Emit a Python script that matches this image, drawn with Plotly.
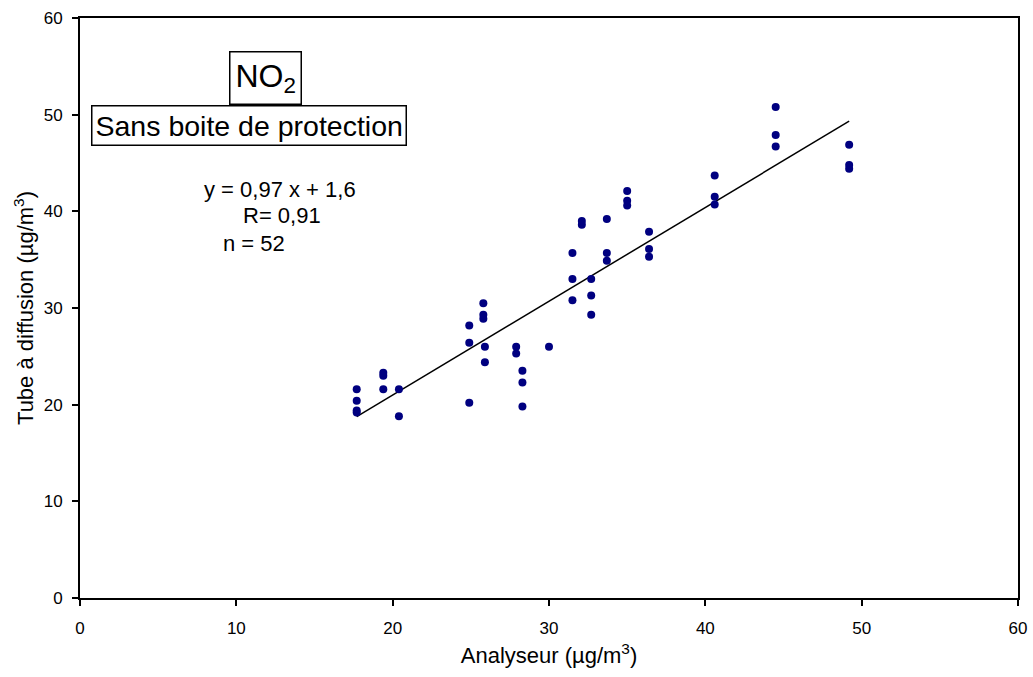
import plotly.graph_objects as go

analyseur = [17.7, 17.7, 17.7, 17.7,
             19.4, 19.4, 19.4,
             20.4, 20.4,
             24.9, 24.9, 24.9,
             25.8, 25.8, 25.8,
             25.9, 25.9,
             27.9, 27.9,
             28.3, 28.3, 28.3,
             30.0,
             31.5, 31.5, 31.5,
             32.1, 32.1,
             32.7, 32.7, 32.7,
             33.7, 33.7, 33.7,
             35.0, 35.0, 35.0,
             36.4, 36.4, 36.4,
             40.6, 40.6, 40.6,
             44.5, 44.5, 44.5,
             49.2, 49.2, 49.2]
tube = [21.6, 20.4, 19.4, 19.2,
        23.3, 23.0, 21.6,
        21.6, 18.8,
        28.2, 26.4, 20.2,
        30.5, 29.3, 28.9,
        26.0, 24.4,
        26.0, 25.3,
        23.5, 22.3, 19.8,
        26.0,
        35.7, 33.0, 30.8,
        39.0, 38.6,
        33.0, 31.3, 29.3,
        39.2, 35.7, 34.9,
        42.1, 41.1, 40.6,
        37.9, 36.1, 35.3,
        43.7, 41.5, 40.7,
        50.8, 47.9, 46.7,
        46.9, 44.8, 44.4]

slope = 0.97
intercept = 1.6
tick_vals = [0, 10, 20, 30, 40, 50, 60]

x_fit = [min(analyseur), max(analyseur)]
y_fit = [slope * v + intercept for v in x_fit]

FONT = "Liberation Sans, Arial, sans-serif"

fig = go.Figure()
fig.add_trace(go.Scatter(x=x_fit, y=y_fit, mode="lines",
                         line=dict(color="black", width=1.5), showlegend=False))
fig.add_trace(go.Scatter(x=analyseur, y=tube, mode="markers",
                         marker=dict(color="#000080", size=8), showlegend=False))

common_axis = dict(range=[0, 60], tickvals=tick_vals, showgrid=False, zeroline=False,
                   showline=True, linecolor="black", linewidth=2, mirror=True,
                   ticks="outside", ticklen=6, tickwidth=2, tickcolor="black",
                   tickfont=dict(size=17, color="black", family=FONT))

fig.update_xaxes(**common_axis,
                 title=dict(text="Analyseur (µg/m<sup>3</sup>)",
                            font=dict(size=22, color="black", family=FONT), standoff=10),
                 ticklabelstandoff=8)
fig.update_yaxes(**common_axis,
                 title=dict(text="Tube à diffusion (µg/m<sup>3</sup>)",
                            font=dict(size=22, color="black", family=FONT), standoff=4),
                 ticklabelstandoff=6)

annots = [
    dict(text="NO<sub>2</sub>", x=0.198, y=0.897, size=32, pad=5, border=True),
    dict(text="Sans boite de protection", x=0.180, y=0.814, size=28.5, pad=3, border=True),
    dict(text="y = 0,97 x + 1,6", x=0.213, y=0.705, size=22, pad=0, border=False),
    dict(text="R= 0,91", x=0.215, y=0.660, size=22, pad=0, border=False),
    dict(text="n = 52", x=0.1855, y=0.612, size=22, pad=0, border=False),
]
for a in annots:
    fig.add_annotation(text=a["text"], x=a["x"], y=a["y"], xref="paper", yref="paper",
                       showarrow=False, xanchor="center", yanchor="middle",
                       font=dict(size=a["size"], color="black", family=FONT),
                       bordercolor="black" if a["border"] else "rgba(0,0,0,0)",
                       borderwidth=1.5 if a["border"] else 0, borderpad=a["pad"],
                       bgcolor="white" if a["border"] else "rgba(0,0,0,0)")

fig.update_layout(width=1033, height=677, paper_bgcolor="white", plot_bgcolor="white",
                  margin=dict(l=80, r=15, t=18, b=79, autoexpand=False),
                  font=dict(family=FONT, color="black"))

fig.write_html("out.html", config={"displayModeBar": False},
               post_script="document.body.style.margin='0';document.body.style.overflow='hidden';")
